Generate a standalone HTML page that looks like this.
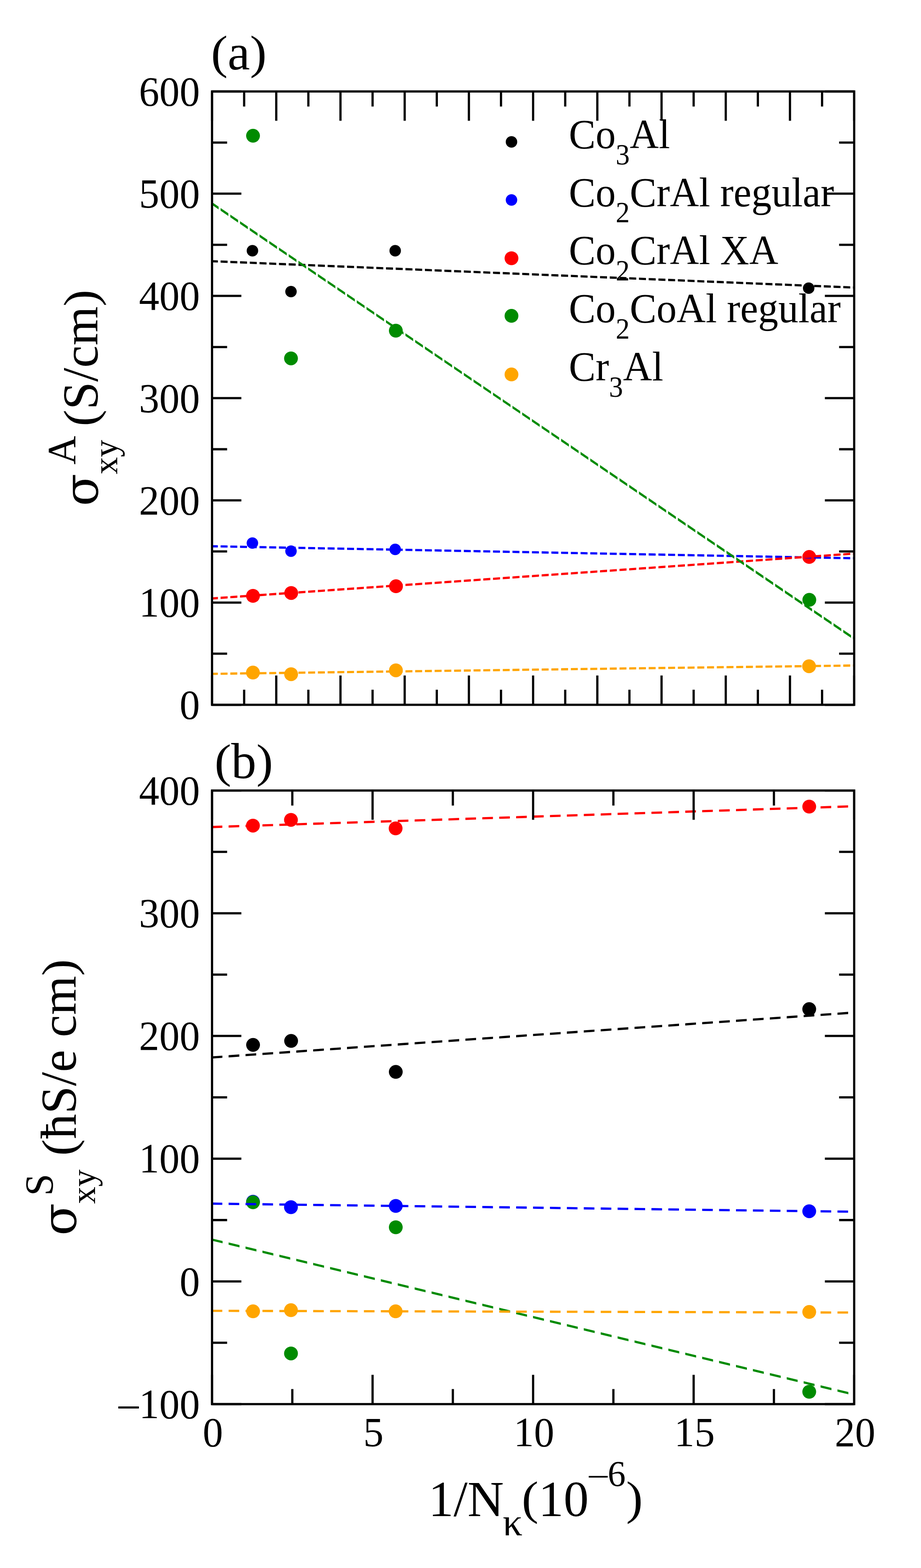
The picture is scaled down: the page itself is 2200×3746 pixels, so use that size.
<!DOCTYPE html>
<html><head><meta charset="utf-8"><title>plot</title>
<style>html,body{margin:0;padding:0;background:#fff;overflow:hidden}svg{display:block}</style>
</head><body>
<svg width="2200" height="3746" viewBox="0 0 2200 3746">
<rect width="2200" height="3746" fill="#fff"/>
<circle cx="603.00" cy="599.00" r="13.7" fill="#000000"/>
<circle cx="695.10" cy="696.60" r="13.7" fill="#000000"/>
<circle cx="944.00" cy="599.00" r="13.7" fill="#000000"/>
<circle cx="1931.70" cy="688.40" r="13.7" fill="#000000"/>
<circle cx="602.90" cy="1297.40" r="13.7" fill="#0000ff"/>
<circle cx="695.10" cy="1316.70" r="13.7" fill="#0000ff"/>
<circle cx="944.00" cy="1312.50" r="13.7" fill="#0000ff"/>
<circle cx="1933.00" cy="1332.00" r="13.7" fill="#0000ff"/>
<circle cx="604.30" cy="1423.50" r="16.5" fill="#ff0000"/>
<circle cx="695.60" cy="1416.70" r="16.5" fill="#ff0000"/>
<circle cx="945.90" cy="1400.60" r="16.5" fill="#ff0000"/>
<circle cx="1933.00" cy="1330.60" r="16.5" fill="#ff0000"/>
<circle cx="604.40" cy="324.30" r="16.5" fill="#008b00"/>
<circle cx="695.10" cy="856.20" r="16.5" fill="#008b00"/>
<circle cx="945.50" cy="790.00" r="16.5" fill="#008b00"/>
<circle cx="1933.20" cy="1433.10" r="16.5" fill="#008b00"/>
<circle cx="604.20" cy="1606.80" r="16.5" fill="#ffa500"/>
<circle cx="695.40" cy="1610.70" r="16.5" fill="#ffa500"/>
<circle cx="945.70" cy="1601.40" r="16.5" fill="#ffa500"/>
<circle cx="1932.60" cy="1591.70" r="16.5" fill="#ffa500"/>
<path d="M506.50 621.35L520.42 621.92L520.42 627.22L506.50 626.65ZM526.94 622.19L543.66 622.87L543.66 628.18L526.94 627.49ZM550.18 623.14L566.90 623.83L566.90 629.13L550.18 628.45ZM573.42 624.10L590.14 624.78L590.14 630.09L573.42 629.40ZM596.66 625.05L613.38 625.74L613.38 631.04L596.66 630.36ZM619.90 626.01L636.62 626.69L636.62 632.00L619.90 631.31ZM643.14 626.96L659.86 627.65L659.86 632.95L643.14 632.26ZM666.38 627.91L683.10 628.60L683.10 633.91L666.38 633.22ZM689.62 628.87L706.34 629.56L706.34 634.86L689.62 634.17ZM712.86 629.82L729.58 630.51L729.58 635.81L712.86 635.13ZM736.10 630.78L752.82 631.46L752.82 636.77L736.10 636.08ZM759.34 631.73L776.06 632.42L776.06 637.72L759.34 637.04ZM782.58 632.69L799.30 633.37L799.30 638.68L782.58 637.99ZM805.82 633.64L822.54 634.33L822.54 639.63L805.82 638.95ZM829.06 634.60L845.78 635.28L845.78 640.59L829.06 639.90ZM852.30 635.55L869.02 636.24L869.02 641.54L852.30 640.85ZM875.54 636.50L892.26 637.19L892.26 642.50L875.54 641.81ZM898.78 637.46L915.50 638.15L915.50 643.45L898.78 642.76ZM922.02 638.41L938.74 639.10L938.74 644.40L922.02 643.72ZM945.26 639.37L961.98 640.05L961.98 645.36L945.26 644.67ZM968.50 640.32L985.22 641.01L985.22 646.31L968.50 645.63ZM991.74 641.28L1008.46 641.96L1008.46 647.27L991.74 646.58ZM1014.98 642.23L1031.70 642.92L1031.70 648.22L1014.98 647.54ZM1038.22 643.19L1054.94 643.87L1054.94 649.18L1038.22 648.49ZM1061.46 644.14L1078.18 644.83L1078.18 650.13L1061.46 649.45ZM1084.70 645.10L1101.42 645.78L1101.42 651.09L1084.70 650.40ZM1107.94 646.05L1124.66 646.74L1124.66 652.04L1107.94 651.35ZM1131.18 647.00L1147.90 647.69L1147.90 653.00L1131.18 652.31ZM1154.42 647.96L1171.14 648.65L1171.14 653.95L1154.42 653.26ZM1177.66 648.91L1194.38 649.60L1194.38 654.90L1177.66 654.22ZM1200.90 649.87L1217.62 650.55L1217.62 655.86L1200.90 655.17ZM1224.14 650.82L1240.86 651.51L1240.86 656.81L1224.14 656.13ZM1247.38 651.78L1264.10 652.46L1264.10 657.77L1247.38 657.08ZM1270.62 652.73L1287.34 653.42L1287.34 658.72L1270.62 658.04ZM1293.86 653.69L1310.58 654.37L1310.58 659.68L1293.86 658.99ZM1317.10 654.64L1333.82 655.33L1333.82 660.63L1317.10 659.95ZM1340.34 655.60L1357.06 656.28L1357.06 661.59L1340.34 660.90ZM1363.58 656.55L1380.30 657.24L1380.30 662.54L1363.58 661.85ZM1386.82 657.50L1403.54 658.19L1403.54 663.50L1386.82 662.81ZM1410.06 658.46L1426.78 659.15L1426.78 664.45L1410.06 663.76ZM1433.30 659.41L1450.02 660.10L1450.02 665.40L1433.30 664.72ZM1456.54 660.37L1473.26 661.05L1473.26 666.36L1456.54 665.67ZM1479.78 661.32L1496.50 662.01L1496.50 667.31L1479.78 666.63ZM1503.02 662.28L1519.74 662.96L1519.74 668.27L1503.02 667.58ZM1526.26 663.23L1542.98 663.92L1542.98 669.22L1526.26 668.54ZM1549.50 664.19L1566.22 664.87L1566.22 670.18L1549.50 669.49ZM1572.74 665.14L1589.46 665.83L1589.46 671.13L1572.74 670.44ZM1595.98 666.09L1612.70 666.78L1612.70 672.09L1595.98 671.40ZM1619.22 667.05L1635.94 667.74L1635.94 673.04L1619.22 672.35ZM1642.46 668.00L1659.18 668.69L1659.18 673.99L1642.46 673.31ZM1665.70 668.96L1682.42 669.64L1682.42 674.95L1665.70 674.26ZM1688.94 669.91L1705.66 670.60L1705.66 675.90L1688.94 675.22ZM1712.18 670.87L1728.90 671.55L1728.90 676.86L1712.18 676.17ZM1735.42 671.82L1752.14 672.51L1752.14 677.81L1735.42 677.13ZM1758.66 672.78L1775.38 673.46L1775.38 678.77L1758.66 678.08ZM1781.90 673.73L1798.62 674.42L1798.62 679.72L1781.90 679.04ZM1805.14 674.69L1821.86 675.37L1821.86 680.68L1805.14 679.99ZM1828.38 675.64L1845.10 676.33L1845.10 681.63L1828.38 680.94ZM1851.62 676.59L1868.34 677.28L1868.34 682.59L1851.62 681.90ZM1874.86 677.55L1891.58 678.24L1891.58 683.54L1874.86 682.85ZM1898.10 678.50L1914.82 679.19L1914.82 684.49L1898.10 683.81ZM1921.34 679.46L1938.06 680.14L1938.06 685.45L1921.34 684.76ZM1944.58 680.41L1961.30 681.10L1961.30 686.40L1944.58 685.72ZM1967.82 681.37L1984.54 682.05L1984.54 687.36L1967.82 686.67ZM1991.06 682.32L2007.78 683.01L2007.78 688.31L1991.06 687.63ZM2014.30 683.28L2031.02 683.96L2031.02 689.27L2014.30 688.58ZM2037.54 684.23L2040.40 684.35L2040.40 689.65L2037.54 689.53Z" fill="#000000"/>
<path d="M506.50 1302.35L520.35 1302.61L520.35 1307.91L506.50 1307.65ZM526.94 1302.73L543.59 1303.04L543.59 1308.34L526.94 1308.03ZM550.18 1303.17L566.83 1303.48L566.83 1308.78L550.18 1308.47ZM573.42 1303.60L590.07 1303.91L590.07 1309.21L573.42 1308.90ZM596.66 1304.04L613.31 1304.35L613.31 1309.65L596.66 1309.34ZM619.90 1304.47L636.55 1304.78L636.55 1310.08L619.90 1309.77ZM643.14 1304.91L659.79 1305.22L659.79 1310.52L643.14 1310.21ZM666.38 1305.34L683.03 1305.65L683.03 1310.95L666.38 1310.64ZM689.62 1305.78L706.27 1306.09L706.27 1311.39L689.62 1311.08ZM712.86 1306.21L729.51 1306.52L729.51 1311.82L712.86 1311.51ZM736.10 1306.65L752.75 1306.96L752.75 1312.26L736.10 1311.95ZM759.34 1307.08L775.99 1307.39L775.99 1312.69L759.34 1312.38ZM782.58 1307.52L799.23 1307.83L799.23 1313.13L782.58 1312.82ZM805.82 1307.95L822.47 1308.26L822.47 1313.56L805.82 1313.25ZM829.06 1308.38L845.71 1308.70L845.71 1314.00L829.06 1313.69ZM852.30 1308.82L868.95 1309.13L868.95 1314.43L852.30 1314.12ZM875.54 1309.25L892.19 1309.57L892.19 1314.87L875.54 1314.56ZM898.78 1309.69L915.43 1310.00L915.43 1315.30L898.78 1314.99ZM922.02 1310.12L938.67 1310.44L938.67 1315.74L922.02 1315.43ZM945.26 1310.56L961.91 1310.87L961.91 1316.17L945.26 1315.86ZM968.50 1310.99L985.15 1311.31L985.15 1316.61L968.50 1316.29ZM991.74 1311.43L1008.39 1311.74L1008.39 1317.04L991.74 1316.73ZM1014.98 1311.86L1031.63 1312.18L1031.63 1317.48L1014.98 1317.16ZM1038.22 1312.30L1054.87 1312.61L1054.87 1317.91L1038.22 1317.60ZM1061.46 1312.73L1078.11 1313.04L1078.11 1318.35L1061.46 1318.03ZM1084.70 1313.17L1101.35 1313.48L1101.35 1318.78L1084.70 1318.47ZM1107.94 1313.60L1124.59 1313.91L1124.59 1319.22L1107.94 1318.90ZM1131.18 1314.04L1147.83 1314.35L1147.83 1319.65L1131.18 1319.34ZM1154.42 1314.47L1171.07 1314.78L1171.07 1320.08L1154.42 1319.77ZM1177.66 1314.91L1194.31 1315.22L1194.31 1320.52L1177.66 1320.21ZM1200.90 1315.34L1217.55 1315.65L1217.55 1320.95L1200.90 1320.64ZM1224.14 1315.78L1240.79 1316.09L1240.79 1321.39L1224.14 1321.08ZM1247.38 1316.21L1264.03 1316.52L1264.03 1321.82L1247.38 1321.51ZM1270.62 1316.65L1287.27 1316.96L1287.27 1322.26L1270.62 1321.95ZM1293.86 1317.08L1310.51 1317.39L1310.51 1322.69L1293.86 1322.38ZM1317.10 1317.52L1333.75 1317.83L1333.75 1323.13L1317.10 1322.82ZM1340.34 1317.95L1356.99 1318.26L1356.99 1323.56L1340.34 1323.25ZM1363.58 1318.39L1380.23 1318.70L1380.23 1324.00L1363.58 1323.69ZM1386.82 1318.82L1403.47 1319.13L1403.47 1324.43L1386.82 1324.12ZM1410.06 1319.26L1426.71 1319.57L1426.71 1324.87L1410.06 1324.56ZM1433.30 1319.69L1449.95 1320.00L1449.95 1325.30L1433.30 1324.99ZM1456.54 1320.13L1473.19 1320.44L1473.19 1325.74L1456.54 1325.43ZM1479.78 1320.56L1496.43 1320.87L1496.43 1326.17L1479.78 1325.86ZM1503.02 1320.99L1519.67 1321.31L1519.67 1326.61L1503.02 1326.30ZM1526.26 1321.43L1542.91 1321.74L1542.91 1327.04L1526.26 1326.73ZM1549.50 1321.86L1566.15 1322.18L1566.15 1327.48L1549.50 1327.17ZM1572.74 1322.30L1589.39 1322.61L1589.39 1327.91L1572.74 1327.60ZM1595.98 1322.73L1612.63 1323.05L1612.63 1328.35L1595.98 1328.04ZM1619.22 1323.17L1635.87 1323.48L1635.87 1328.78L1619.22 1328.47ZM1642.46 1323.60L1659.11 1323.92L1659.11 1329.22L1642.46 1328.90ZM1665.70 1324.04L1682.35 1324.35L1682.35 1329.65L1665.70 1329.34ZM1688.94 1324.47L1705.59 1324.79L1705.59 1330.09L1688.94 1329.77ZM1712.18 1324.91L1728.83 1325.22L1728.83 1330.52L1712.18 1330.21ZM1735.42 1325.34L1752.07 1325.65L1752.07 1330.96L1735.42 1330.64ZM1758.66 1325.78L1775.31 1326.09L1775.31 1331.39L1758.66 1331.08ZM1781.90 1326.21L1798.55 1326.52L1798.55 1331.83L1781.90 1331.51ZM1805.14 1326.65L1821.79 1326.96L1821.79 1332.26L1805.14 1331.95ZM1828.38 1327.08L1845.03 1327.39L1845.03 1332.70L1828.38 1332.38ZM1851.62 1327.52L1868.27 1327.83L1868.27 1333.13L1851.62 1332.82ZM1874.86 1327.95L1891.51 1328.26L1891.51 1333.56L1874.86 1333.25ZM1898.10 1328.39L1914.75 1328.70L1914.75 1334.00L1898.10 1333.69ZM1921.34 1328.82L1937.99 1329.13L1937.99 1334.43L1921.34 1334.12ZM1944.58 1329.26L1961.23 1329.57L1961.23 1334.87L1944.58 1334.56ZM1967.82 1329.69L1984.47 1330.00L1984.47 1335.30L1967.82 1334.99ZM1991.06 1330.13L2007.71 1330.44L2007.71 1335.74L1991.06 1335.43ZM2014.30 1330.56L2030.95 1330.87L2030.95 1336.17L2014.30 1335.86ZM2037.54 1331.00L2040.40 1331.05L2040.40 1336.35L2037.54 1336.30Z" fill="#0000ff"/>
<path d="M506.50 1427.04L520.50 1426.07L520.50 1431.38L506.50 1432.36ZM526.94 1425.62L543.74 1424.44L543.74 1429.75L526.94 1430.93ZM550.18 1423.99L566.98 1422.82L566.98 1428.13L550.18 1429.30ZM573.42 1422.37L590.22 1421.19L590.22 1426.51L573.42 1427.68ZM596.66 1420.74L613.46 1419.57L613.46 1424.88L596.66 1426.06ZM619.90 1419.12L636.70 1417.94L636.70 1423.26L619.90 1424.43ZM643.14 1417.49L659.94 1416.32L659.94 1421.63L643.14 1422.81ZM666.38 1415.87L683.18 1414.70L683.18 1420.01L666.38 1421.18ZM689.62 1414.25L706.42 1413.07L706.42 1418.38L689.62 1419.56ZM712.86 1412.62L729.66 1411.45L729.66 1416.76L712.86 1417.93ZM736.10 1411.00L752.90 1409.82L752.90 1415.14L736.10 1416.31ZM759.34 1409.37L776.14 1408.20L776.14 1413.51L759.34 1414.69ZM782.58 1407.75L799.38 1406.58L799.38 1411.89L782.58 1413.06ZM805.82 1406.12L822.62 1404.95L822.62 1410.26L805.82 1411.44ZM829.06 1404.50L845.86 1403.33L845.86 1408.64L829.06 1409.81ZM852.30 1402.88L869.10 1401.70L869.10 1407.02L852.30 1408.19ZM875.54 1401.25L892.34 1400.08L892.34 1405.39L875.54 1406.57ZM898.78 1399.63L915.58 1398.45L915.58 1403.77L898.78 1404.94ZM922.02 1398.00L938.82 1396.83L938.82 1402.14L922.02 1403.32ZM945.26 1396.38L962.06 1395.21L962.06 1400.52L945.26 1401.69ZM968.50 1394.76L985.30 1393.58L985.30 1398.89L968.50 1400.07ZM991.74 1393.13L1008.54 1391.96L1008.54 1397.27L991.74 1398.44ZM1014.98 1391.51L1031.78 1390.33L1031.78 1395.65L1014.98 1396.82ZM1038.22 1389.88L1055.02 1388.71L1055.02 1394.02L1038.22 1395.20ZM1061.46 1388.26L1078.26 1387.09L1078.26 1392.40L1061.46 1393.57ZM1084.70 1386.63L1101.50 1385.46L1101.50 1390.77L1084.70 1391.95ZM1107.94 1385.01L1124.74 1383.84L1124.74 1389.15L1107.94 1390.32ZM1131.18 1383.39L1147.98 1382.21L1147.98 1387.53L1131.18 1388.70ZM1154.42 1381.76L1171.22 1380.59L1171.22 1385.90L1154.42 1387.08ZM1177.66 1380.14L1194.46 1378.96L1194.46 1384.28L1177.66 1385.45ZM1200.90 1378.51L1217.70 1377.34L1217.70 1382.65L1200.90 1383.83ZM1224.14 1376.89L1240.94 1375.72L1240.94 1381.03L1224.14 1382.20ZM1247.38 1375.27L1264.18 1374.09L1264.18 1379.40L1247.38 1380.58ZM1270.62 1373.64L1287.42 1372.47L1287.42 1377.78L1270.62 1378.95ZM1293.86 1372.02L1310.66 1370.84L1310.66 1376.16L1293.86 1377.33ZM1317.10 1370.39L1333.90 1369.22L1333.90 1374.53L1317.10 1375.71ZM1340.34 1368.77L1357.14 1367.59L1357.14 1372.91L1340.34 1374.08ZM1363.58 1367.14L1380.38 1365.97L1380.38 1371.28L1363.58 1372.46ZM1386.82 1365.52L1403.62 1364.35L1403.62 1369.66L1386.82 1370.83ZM1410.06 1363.90L1426.86 1362.72L1426.86 1368.04L1410.06 1369.21ZM1433.30 1362.27L1450.10 1361.10L1450.10 1366.41L1433.30 1367.58ZM1456.54 1360.65L1473.34 1359.47L1473.34 1364.79L1456.54 1365.96ZM1479.78 1359.02L1496.58 1357.85L1496.58 1363.16L1479.78 1364.34ZM1503.02 1357.40L1519.82 1356.23L1519.82 1361.54L1503.02 1362.71ZM1526.26 1355.78L1543.06 1354.60L1543.06 1359.91L1526.26 1361.09ZM1549.50 1354.15L1566.30 1352.98L1566.30 1358.29L1549.50 1359.46ZM1572.74 1352.53L1589.54 1351.35L1589.54 1356.67L1572.74 1357.84ZM1595.98 1350.90L1612.78 1349.73L1612.78 1355.04L1595.98 1356.22ZM1619.22 1349.28L1636.02 1348.10L1636.02 1353.42L1619.22 1354.59ZM1642.46 1347.65L1659.26 1346.48L1659.26 1351.79L1642.46 1352.97ZM1665.70 1346.03L1682.50 1344.86L1682.50 1350.17L1665.70 1351.34ZM1688.94 1344.41L1705.74 1343.23L1705.74 1348.55L1688.94 1349.72ZM1712.18 1342.78L1728.98 1341.61L1728.98 1346.92L1712.18 1348.09ZM1735.42 1341.16L1752.22 1339.98L1752.22 1345.30L1735.42 1346.47ZM1758.66 1339.53L1775.46 1338.36L1775.46 1343.67L1758.66 1344.85ZM1781.90 1337.91L1798.70 1336.74L1798.70 1342.05L1781.90 1343.22ZM1805.14 1336.29L1821.94 1335.11L1821.94 1340.42L1805.14 1341.60ZM1828.38 1334.66L1845.18 1333.49L1845.18 1338.80L1828.38 1339.97ZM1851.62 1333.04L1868.42 1331.86L1868.42 1337.18L1851.62 1338.35ZM1874.86 1331.41L1891.66 1330.24L1891.66 1335.55L1874.86 1336.73ZM1898.10 1329.79L1914.90 1328.61L1914.90 1333.93L1898.10 1335.10ZM1921.34 1328.16L1938.14 1326.99L1938.14 1332.30L1921.34 1333.48ZM1944.58 1326.54L1961.38 1325.37L1961.38 1330.68L1944.58 1331.85ZM1967.82 1324.92L1984.62 1323.74L1984.62 1329.06L1967.82 1330.23ZM1991.06 1323.29L2007.86 1322.12L2007.86 1327.43L1991.06 1328.60ZM2014.30 1321.67L2031.10 1320.49L2031.10 1325.81L2014.30 1326.98ZM2037.54 1320.04L2040.40 1319.84L2040.40 1325.16L2037.54 1325.36Z" fill="#ff0000"/>
<path d="M506.50 483.10L522.20 493.74L522.20 500.14L506.50 489.50ZM526.94 496.95L545.44 509.48L545.44 515.89L526.94 503.35ZM550.18 512.70L568.68 525.23L568.68 531.63L550.18 519.10ZM573.42 528.45L591.92 540.98L591.92 547.38L573.42 534.85ZM596.66 544.19L615.16 556.73L615.16 563.13L596.66 550.60ZM619.90 559.94L638.40 572.48L638.40 578.88L619.90 566.34ZM643.14 575.69L661.64 588.22L661.64 594.63L643.14 582.09ZM666.38 591.44L684.88 603.97L684.88 610.37L666.38 597.84ZM689.62 607.18L708.12 619.72L708.12 626.12L689.62 613.59ZM712.86 622.93L731.36 635.47L731.36 641.87L712.86 629.33ZM736.10 638.68L754.60 651.21L754.60 657.62L736.10 645.08ZM759.34 654.43L777.84 666.96L777.84 673.36L759.34 660.83ZM782.58 670.18L801.08 682.71L801.08 689.11L782.58 676.58ZM805.82 685.92L824.32 698.46L824.32 704.86L805.82 692.33ZM829.06 701.67L847.56 714.21L847.56 720.61L829.06 708.07ZM852.30 717.42L870.80 729.95L870.80 736.36L852.30 723.82ZM875.54 733.17L894.04 745.70L894.04 752.10L875.54 739.57ZM898.78 748.92L917.28 761.45L917.28 767.85L898.78 755.32ZM922.02 764.66L940.52 777.20L940.52 783.60L922.02 771.07ZM945.26 780.41L963.76 792.95L963.76 799.35L945.26 786.81ZM968.50 796.16L987.00 808.69L987.00 815.10L968.50 802.56ZM991.74 811.91L1010.24 824.44L1010.24 830.84L991.74 818.31ZM1014.98 827.65L1033.48 840.19L1033.48 846.59L1014.98 834.06ZM1038.22 843.40L1056.72 855.94L1056.72 862.34L1038.22 849.80ZM1061.46 859.15L1079.96 871.68L1079.96 878.09L1061.46 865.55ZM1084.70 874.90L1103.20 887.43L1103.20 893.83L1084.70 881.30ZM1107.94 890.65L1126.44 903.18L1126.44 909.58L1107.94 897.05ZM1131.18 906.39L1149.68 918.93L1149.68 925.33L1131.18 912.80ZM1154.42 922.14L1172.92 934.68L1172.92 941.08L1154.42 928.54ZM1177.66 937.89L1196.16 950.42L1196.16 956.83L1177.66 944.29ZM1200.90 953.64L1219.40 966.17L1219.40 972.57L1200.90 960.04ZM1224.14 969.39L1242.64 981.92L1242.64 988.32L1224.14 975.79ZM1247.38 985.13L1265.88 997.67L1265.88 1004.07L1247.38 991.54ZM1270.62 1000.88L1289.12 1013.42L1289.12 1019.82L1270.62 1007.28ZM1293.86 1016.63L1312.36 1029.16L1312.36 1035.57L1293.86 1023.03ZM1317.10 1032.38L1335.60 1044.91L1335.60 1051.31L1317.10 1038.78ZM1340.34 1048.12L1358.84 1060.66L1358.84 1067.06L1340.34 1054.53ZM1363.58 1063.87L1382.08 1076.41L1382.08 1082.81L1363.58 1070.27ZM1386.82 1079.62L1405.32 1092.15L1405.32 1098.56L1386.82 1086.02ZM1410.06 1095.37L1428.56 1107.90L1428.56 1114.30L1410.06 1101.77ZM1433.30 1111.12L1451.80 1123.65L1451.80 1130.05L1433.30 1117.52ZM1456.54 1126.86L1475.04 1139.40L1475.04 1145.80L1456.54 1133.27ZM1479.78 1142.61L1498.28 1155.15L1498.28 1161.55L1479.78 1149.01ZM1503.02 1158.36L1521.52 1170.89L1521.52 1177.30L1503.02 1164.76ZM1526.26 1174.11L1544.76 1186.64L1544.76 1193.04L1526.26 1180.51ZM1549.50 1189.86L1568.00 1202.39L1568.00 1208.79L1549.50 1196.26ZM1572.74 1205.60L1591.24 1218.14L1591.24 1224.54L1572.74 1212.01ZM1595.98 1221.35L1614.48 1233.89L1614.48 1240.29L1595.98 1227.75ZM1619.22 1237.10L1637.72 1249.63L1637.72 1256.04L1619.22 1243.50ZM1642.46 1252.85L1660.96 1265.38L1660.96 1271.78L1642.46 1259.25ZM1665.70 1268.60L1684.20 1281.13L1684.20 1287.53L1665.70 1275.00ZM1688.94 1284.34L1707.44 1296.88L1707.44 1303.28L1688.94 1290.75ZM1712.18 1300.09L1730.68 1312.62L1730.68 1319.03L1712.18 1306.49ZM1735.42 1315.84L1753.92 1328.37L1753.92 1334.77L1735.42 1322.24ZM1758.66 1331.59L1777.16 1344.12L1777.16 1350.52L1758.66 1337.99ZM1781.90 1347.33L1800.40 1359.87L1800.40 1366.27L1781.90 1353.74ZM1805.14 1363.08L1823.64 1375.62L1823.64 1382.02L1805.14 1369.48ZM1828.38 1378.83L1846.88 1391.36L1846.88 1397.77L1828.38 1385.23ZM1851.62 1394.58L1870.12 1407.11L1870.12 1413.51L1851.62 1400.98ZM1874.86 1410.33L1893.36 1422.86L1893.36 1429.26L1874.86 1416.73ZM1898.10 1426.07L1916.60 1438.61L1916.60 1445.01L1898.10 1432.48ZM1921.34 1441.82L1939.84 1454.36L1939.84 1460.76L1921.34 1448.22ZM1944.58 1457.57L1963.08 1470.10L1963.08 1476.51L1944.58 1463.97ZM1967.82 1473.32L1986.32 1485.85L1986.32 1492.25L1967.82 1479.72ZM1991.06 1489.07L2009.56 1501.60L2009.56 1508.00L1991.06 1495.47ZM2014.30 1504.81L2032.80 1517.35L2032.80 1523.75L2014.30 1511.22ZM2037.54 1520.56L2040.40 1522.50L2040.40 1528.90L2037.54 1526.96Z" fill="#008b00"/>
<path d="M506.50 1607.15L520.34 1606.97L520.34 1612.27L506.50 1612.45ZM526.94 1606.88L543.58 1606.67L543.58 1611.97L526.94 1612.19ZM550.18 1606.58L566.82 1606.37L566.82 1611.67L550.18 1611.88ZM573.42 1606.28L590.06 1606.07L590.06 1611.37L573.42 1611.58ZM596.66 1605.98L613.30 1605.76L613.30 1611.06L596.66 1611.28ZM619.90 1605.68L636.54 1605.46L636.54 1610.76L619.90 1610.98ZM643.14 1605.38L659.78 1605.16L659.78 1610.46L643.14 1610.68ZM666.38 1605.08L683.02 1604.86L683.02 1610.16L666.38 1610.38ZM689.62 1604.77L706.26 1604.56L706.26 1609.86L689.62 1610.07ZM712.86 1604.47L729.50 1604.26L729.50 1609.56L712.86 1609.77ZM736.10 1604.17L752.74 1603.96L752.74 1609.26L736.10 1609.47ZM759.34 1603.87L775.98 1603.65L775.98 1608.95L759.34 1609.17ZM782.58 1603.57L799.22 1603.35L799.22 1608.65L782.58 1608.87ZM805.82 1603.27L822.46 1603.05L822.46 1608.35L805.82 1608.57ZM829.06 1602.97L845.70 1602.75L845.70 1608.05L829.06 1608.27ZM852.30 1602.66L868.94 1602.45L868.94 1607.75L852.30 1607.96ZM875.54 1602.36L892.18 1602.15L892.18 1607.45L875.54 1607.66ZM898.78 1602.06L915.42 1601.84L915.42 1607.15L898.78 1607.36ZM922.02 1601.76L938.66 1601.54L938.66 1606.84L922.02 1607.06ZM945.26 1601.46L961.90 1601.24L961.90 1606.54L945.26 1606.76ZM968.50 1601.16L985.14 1600.94L985.14 1606.24L968.50 1606.46ZM991.74 1600.85L1008.38 1600.64L1008.38 1605.94L991.74 1606.15ZM1014.98 1600.55L1031.62 1600.34L1031.62 1605.64L1014.98 1605.85ZM1038.22 1600.25L1054.86 1600.04L1054.86 1605.34L1038.22 1605.55ZM1061.46 1599.95L1078.10 1599.73L1078.10 1605.03L1061.46 1605.25ZM1084.70 1599.65L1101.34 1599.43L1101.34 1604.73L1084.70 1604.95ZM1107.94 1599.35L1124.58 1599.13L1124.58 1604.43L1107.94 1604.65ZM1131.18 1599.05L1147.82 1598.83L1147.82 1604.13L1131.18 1604.35ZM1154.42 1598.74L1171.06 1598.53L1171.06 1603.83L1154.42 1604.04ZM1177.66 1598.44L1194.30 1598.23L1194.30 1603.53L1177.66 1603.74ZM1200.90 1598.14L1217.54 1597.93L1217.54 1603.23L1200.90 1603.44ZM1224.14 1597.84L1240.78 1597.62L1240.78 1602.92L1224.14 1603.14ZM1247.38 1597.54L1264.02 1597.32L1264.02 1602.62L1247.38 1602.84ZM1270.62 1597.24L1287.26 1597.02L1287.26 1602.32L1270.62 1602.54ZM1293.86 1596.93L1310.50 1596.72L1310.50 1602.02L1293.86 1602.24ZM1317.10 1596.63L1333.74 1596.42L1333.74 1601.72L1317.10 1601.93ZM1340.34 1596.33L1356.98 1596.12L1356.98 1601.42L1340.34 1601.63ZM1363.58 1596.03L1380.22 1595.81L1380.22 1601.12L1363.58 1601.33ZM1386.82 1595.73L1403.46 1595.51L1403.46 1600.81L1386.82 1601.03ZM1410.06 1595.43L1426.70 1595.21L1426.70 1600.51L1410.06 1600.73ZM1433.30 1595.13L1449.94 1594.91L1449.94 1600.21L1433.30 1600.43ZM1456.54 1594.82L1473.18 1594.61L1473.18 1599.91L1456.54 1600.12ZM1479.78 1594.52L1496.42 1594.31L1496.42 1599.61L1479.78 1599.82ZM1503.02 1594.22L1519.66 1594.01L1519.66 1599.31L1503.02 1599.52ZM1526.26 1593.92L1542.90 1593.70L1542.90 1599.00L1526.26 1599.22ZM1549.50 1593.62L1566.14 1593.40L1566.14 1598.70L1549.50 1598.92ZM1572.74 1593.32L1589.38 1593.10L1589.38 1598.40L1572.74 1598.62ZM1595.98 1593.02L1612.62 1592.80L1612.62 1598.10L1595.98 1598.32ZM1619.22 1592.71L1635.86 1592.50L1635.86 1597.80L1619.22 1598.01ZM1642.46 1592.41L1659.10 1592.20L1659.10 1597.50L1642.46 1597.71ZM1665.70 1592.11L1682.34 1591.90L1682.34 1597.20L1665.70 1597.41ZM1688.94 1591.81L1705.58 1591.59L1705.58 1596.89L1688.94 1597.11ZM1712.18 1591.51L1728.82 1591.29L1728.82 1596.59L1712.18 1596.81ZM1735.42 1591.21L1752.06 1590.99L1752.06 1596.29L1735.42 1596.51ZM1758.66 1590.90L1775.30 1590.69L1775.30 1595.99L1758.66 1596.21ZM1781.90 1590.60L1798.54 1590.39L1798.54 1595.69L1781.90 1595.90ZM1805.14 1590.30L1821.78 1590.09L1821.78 1595.39L1805.14 1595.60ZM1828.38 1590.00L1845.02 1589.78L1845.02 1595.09L1828.38 1595.30ZM1851.62 1589.70L1868.26 1589.48L1868.26 1594.78L1851.62 1595.00ZM1874.86 1589.40L1891.50 1589.18L1891.50 1594.48L1874.86 1594.70ZM1898.10 1589.10L1914.74 1588.88L1914.74 1594.18L1898.10 1594.40ZM1921.34 1588.79L1937.98 1588.58L1937.98 1593.88L1921.34 1594.09ZM1944.58 1588.49L1961.22 1588.28L1961.22 1593.58L1944.58 1593.79ZM1967.82 1588.19L1984.46 1587.98L1984.46 1593.28L1967.82 1593.49ZM1991.06 1587.89L2007.70 1587.67L2007.70 1592.97L1991.06 1593.19ZM2014.30 1587.59L2030.94 1587.37L2030.94 1592.67L2014.30 1592.89ZM2037.54 1587.29L2040.40 1587.25L2040.40 1592.55L2037.54 1592.59Z" fill="#ffa500"/>
<rect x="506.5" y="218.5" width="1533.90" height="1465.30" fill="none" stroke="#000" stroke-width="5.3" stroke-linejoin="miter"/>
<path d="M506.50 218.50V288.50M506.50 1683.80V1613.80M659.89 218.50V288.50M659.89 1683.80V1613.80M813.28 218.50V288.50M813.28 1683.80V1613.80M966.67 218.50V288.50M966.67 1683.80V1613.80M1120.06 218.50V288.50M1120.06 1683.80V1613.80M1273.45 218.50V288.50M1273.45 1683.80V1613.80M1426.84 218.50V288.50M1426.84 1683.80V1613.80M1580.23 218.50V288.50M1580.23 1683.80V1613.80M1733.62 218.50V288.50M1733.62 1683.80V1613.80M1887.01 218.50V288.50M1887.01 1683.80V1613.80M2040.40 218.50V288.50M2040.40 1683.80V1613.80M583.20 218.50V254.50M583.20 1683.80V1647.80M736.59 218.50V254.50M736.59 1683.80V1647.80M889.98 218.50V254.50M889.98 1683.80V1647.80M1043.37 218.50V254.50M1043.37 1683.80V1647.80M1196.76 218.50V254.50M1196.76 1683.80V1647.80M1350.14 218.50V254.50M1350.14 1683.80V1647.80M1503.54 218.50V254.50M1503.54 1683.80V1647.80M1656.92 218.50V254.50M1656.92 1683.80V1647.80M1810.32 218.50V254.50M1810.32 1683.80V1647.80M1963.71 218.50V254.50M1963.71 1683.80V1647.80" stroke="#000" stroke-width="5.3" fill="none"/>
<path d="M506.50 1683.80H576.50M2040.40 1683.80H1970.40M506.50 1439.58H576.50M2040.40 1439.58H1970.40M506.50 1195.37H576.50M2040.40 1195.37H1970.40M506.50 951.15H576.50M2040.40 951.15H1970.40M506.50 706.93H576.50M2040.40 706.93H1970.40M506.50 462.72H576.50M2040.40 462.72H1970.40M506.50 218.50H576.50M2040.40 218.50H1970.40M506.50 1561.69H542.50M2040.40 1561.69H2004.40M506.50 1317.47H542.50M2040.40 1317.47H2004.40M506.50 1073.26H542.50M2040.40 1073.26H2004.40M506.50 829.04H542.50M2040.40 829.04H2004.40M506.50 584.83H542.50M2040.40 584.83H2004.40M506.50 340.61H542.50M2040.40 340.61H2004.40" stroke="#000" stroke-width="5.3" fill="none"/>
<circle cx="1221.80" cy="339.00" r="13.7" fill="#000000"/>
<circle cx="1221.80" cy="477.70" r="13.7" fill="#0000ff"/>
<circle cx="1221.80" cy="617.00" r="16.5" fill="#ff0000"/>
<circle cx="1221.80" cy="754.60" r="16.5" fill="#008b00"/>
<circle cx="1221.80" cy="894.60" r="16.5" fill="#ffa500"/>
<circle cx="604.20" cy="1972.40" r="16.5" fill="#ff0000"/>
<circle cx="695.00" cy="1958.70" r="16.5" fill="#ff0000"/>
<circle cx="945.00" cy="1979.00" r="16.5" fill="#ff0000"/>
<circle cx="1933.00" cy="1927.00" r="16.5" fill="#ff0000"/>
<circle cx="604.50" cy="2496.30" r="16.5" fill="#000000"/>
<circle cx="695.40" cy="2486.80" r="16.5" fill="#000000"/>
<circle cx="945.40" cy="2560.80" r="16.5" fill="#000000"/>
<circle cx="1933.00" cy="2410.80" r="16.5" fill="#000000"/>
<circle cx="604.30" cy="2871.00" r="16.5" fill="#0000ff"/>
<circle cx="695.00" cy="2884.00" r="16.5" fill="#0000ff"/>
<circle cx="945.40" cy="2881.00" r="16.5" fill="#0000ff"/>
<circle cx="1933.00" cy="2893.70" r="16.5" fill="#0000ff"/>
<circle cx="604.30" cy="2872.30" r="16.5" fill="#008b00"/>
<circle cx="695.10" cy="3233.40" r="16.5" fill="#008b00"/>
<circle cx="945.40" cy="2932.00" r="16.5" fill="#008b00"/>
<circle cx="1933.00" cy="3325.00" r="16.5" fill="#008b00"/>
<circle cx="604.50" cy="3132.80" r="16.5" fill="#ffa500"/>
<circle cx="695.00" cy="3130.10" r="16.5" fill="#ffa500"/>
<circle cx="945.00" cy="3132.80" r="16.5" fill="#ffa500"/>
<circle cx="1933.00" cy="3134.30" r="16.5" fill="#ffa500"/>
<path d="M506.50 1973.15L531.09 1972.35L531.09 1977.66L506.50 1978.45ZM546.10 1971.87L571.49 1971.05L571.49 1976.35L546.10 1977.17ZM586.50 1970.56L611.89 1969.74L611.89 1975.04L586.50 1975.86ZM626.90 1969.26L652.29 1968.43L652.29 1973.74L626.90 1974.56ZM667.30 1967.95L692.69 1967.13L692.69 1972.43L667.30 1973.25ZM707.70 1966.64L733.09 1965.82L733.09 1971.12L707.70 1971.95ZM748.10 1965.34L773.49 1964.52L773.49 1969.82L748.10 1970.64ZM788.50 1964.03L813.89 1963.21L813.89 1968.51L788.50 1969.33ZM828.90 1962.72L854.29 1961.90L854.29 1967.21L828.90 1968.03ZM869.30 1961.42L894.69 1960.60L894.69 1965.90L869.30 1966.72ZM909.70 1960.11L935.09 1959.29L935.09 1964.59L909.70 1965.41ZM950.10 1958.80L975.49 1957.98L975.49 1963.29L950.10 1964.11ZM990.50 1957.50L1015.89 1956.68L1015.89 1961.98L990.50 1962.80ZM1030.90 1956.19L1056.29 1955.37L1056.29 1960.67L1030.90 1961.49ZM1071.30 1954.89L1096.69 1954.06L1096.69 1959.37L1071.30 1960.19ZM1111.70 1953.58L1137.09 1952.76L1137.09 1958.06L1111.70 1958.88ZM1152.10 1952.27L1177.49 1951.45L1177.49 1956.75L1152.10 1957.58ZM1192.50 1950.97L1217.89 1950.15L1217.89 1955.45L1192.50 1956.27ZM1232.90 1949.66L1258.29 1948.84L1258.29 1954.14L1232.90 1954.96ZM1273.30 1948.35L1298.69 1947.53L1298.69 1952.84L1273.30 1953.66ZM1313.70 1947.05L1339.09 1946.23L1339.09 1951.53L1313.70 1952.35ZM1354.10 1945.74L1379.49 1944.92L1379.49 1950.22L1354.10 1951.04ZM1394.50 1944.43L1419.89 1943.61L1419.89 1948.92L1394.50 1949.74ZM1434.90 1943.13L1460.29 1942.31L1460.29 1947.61L1434.90 1948.43ZM1475.30 1941.82L1500.69 1941.00L1500.69 1946.30L1475.30 1947.12ZM1515.70 1940.52L1541.09 1939.69L1541.09 1945.00L1515.70 1945.82ZM1556.10 1939.21L1581.49 1938.39L1581.49 1943.69L1556.10 1944.51ZM1596.50 1937.90L1621.89 1937.08L1621.89 1942.38L1596.50 1943.21ZM1636.90 1936.60L1662.29 1935.78L1662.29 1941.08L1636.90 1941.90ZM1677.30 1935.29L1702.69 1934.47L1702.69 1939.77L1677.30 1940.59ZM1717.70 1933.98L1743.09 1933.16L1743.09 1938.47L1717.70 1939.29ZM1758.10 1932.68L1783.49 1931.86L1783.49 1937.16L1758.10 1937.98ZM1798.50 1931.37L1823.89 1930.55L1823.89 1935.85L1798.50 1936.67ZM1838.90 1930.06L1864.29 1929.24L1864.29 1934.55L1838.90 1935.37ZM1879.30 1928.76L1904.69 1927.94L1904.69 1933.24L1879.30 1934.06ZM1919.70 1927.45L1945.09 1926.63L1945.09 1931.93L1919.70 1932.75ZM1960.10 1926.15L1985.49 1925.32L1985.49 1930.63L1960.10 1931.45ZM2000.50 1924.84L2025.89 1924.02L2025.89 1929.32L2000.50 1930.14Z" fill="#ff0000"/>
<path d="M506.50 2523.64L531.20 2521.92L531.20 2527.23L506.50 2528.96ZM546.10 2520.87L571.60 2519.09L571.60 2524.40L546.10 2526.19ZM586.50 2518.05L612.00 2516.26L612.00 2521.58L586.50 2523.36ZM626.90 2515.22L652.40 2513.44L652.40 2518.75L626.90 2520.53ZM667.30 2512.40L692.80 2510.61L692.80 2515.92L667.30 2517.71ZM707.70 2509.57L733.20 2507.79L733.20 2513.10L707.70 2514.88ZM748.10 2506.74L773.60 2504.96L773.60 2510.27L748.10 2512.06ZM788.50 2503.92L814.00 2502.13L814.00 2507.45L788.50 2509.23ZM828.90 2501.09L854.40 2499.31L854.40 2504.62L828.90 2506.40ZM869.30 2498.26L894.80 2496.48L894.80 2501.79L869.30 2503.58ZM909.70 2495.44L935.20 2493.66L935.20 2498.97L909.70 2500.75ZM950.10 2492.61L975.60 2490.83L975.60 2496.14L950.10 2497.93ZM990.50 2489.79L1016.00 2488.00L1016.00 2493.32L990.50 2495.10ZM1030.90 2486.96L1056.40 2485.18L1056.40 2490.49L1030.90 2492.27ZM1071.30 2484.13L1096.80 2482.35L1096.80 2487.66L1071.30 2489.45ZM1111.70 2481.31L1137.20 2479.52L1137.20 2484.84L1111.70 2486.62ZM1152.10 2478.48L1177.60 2476.70L1177.60 2482.01L1152.10 2483.80ZM1192.50 2475.66L1218.00 2473.87L1218.00 2479.19L1192.50 2480.97ZM1232.90 2472.83L1258.40 2471.05L1258.40 2476.36L1232.90 2478.14ZM1273.30 2470.00L1298.80 2468.22L1298.80 2473.53L1273.30 2475.32ZM1313.70 2467.18L1339.20 2465.39L1339.20 2470.71L1313.70 2472.49ZM1354.10 2464.35L1379.60 2462.57L1379.60 2467.88L1354.10 2469.66ZM1394.50 2461.53L1420.00 2459.74L1420.00 2465.06L1394.50 2466.84ZM1434.90 2458.70L1460.40 2456.92L1460.40 2462.23L1434.90 2464.01ZM1475.30 2455.87L1500.80 2454.09L1500.80 2459.40L1475.30 2461.19ZM1515.70 2453.05L1541.20 2451.26L1541.20 2456.58L1515.70 2458.36ZM1556.10 2450.22L1581.60 2448.44L1581.60 2453.75L1556.10 2455.53ZM1596.50 2447.40L1622.00 2445.61L1622.00 2450.92L1596.50 2452.71ZM1636.90 2444.57L1662.40 2442.79L1662.40 2448.10L1636.90 2449.88ZM1677.30 2441.74L1702.80 2439.96L1702.80 2445.27L1677.30 2447.06ZM1717.70 2438.92L1743.20 2437.13L1743.20 2442.45L1717.70 2444.23ZM1758.10 2436.09L1783.60 2434.31L1783.60 2439.62L1758.10 2441.40ZM1798.50 2433.27L1824.00 2431.48L1824.00 2436.79L1798.50 2438.58ZM1838.90 2430.44L1864.40 2428.66L1864.40 2433.97L1838.90 2435.75ZM1879.30 2427.61L1904.80 2425.83L1904.80 2431.14L1879.30 2432.93ZM1919.70 2424.79L1945.20 2423.00L1945.20 2428.32L1919.70 2430.10ZM1960.10 2421.96L1985.60 2420.18L1985.60 2425.49L1960.10 2427.27ZM2000.50 2419.13L2026.00 2417.35L2026.00 2422.66L2000.50 2424.45Z" fill="#000000"/>
<path d="M506.50 2872.85L531.04 2873.16L531.04 2878.46L506.50 2878.15ZM546.10 2873.35L571.44 2873.67L571.44 2878.97L546.10 2878.65ZM586.50 2873.86L611.84 2874.18L611.84 2879.48L586.50 2879.16ZM626.90 2874.37L652.24 2874.69L652.24 2879.99L626.90 2879.67ZM667.30 2874.88L692.64 2875.20L692.64 2880.50L667.30 2880.18ZM707.70 2875.39L733.04 2875.71L733.04 2881.02L707.70 2880.69ZM748.10 2875.91L773.44 2876.23L773.44 2881.53L748.10 2881.21ZM788.50 2876.42L813.84 2876.74L813.84 2882.04L788.50 2881.72ZM828.90 2876.93L854.24 2877.25L854.24 2882.55L828.90 2882.23ZM869.30 2877.44L894.64 2877.76L894.64 2883.06L869.30 2882.74ZM909.70 2877.95L935.04 2878.27L935.04 2883.57L909.70 2883.25ZM950.10 2878.46L975.44 2878.78L975.44 2884.08L950.10 2883.76ZM990.50 2878.97L1015.84 2879.29L1015.84 2884.59L990.50 2884.27ZM1030.90 2879.48L1056.24 2879.80L1056.24 2885.10L1030.90 2884.78ZM1071.30 2879.99L1096.64 2880.31L1096.64 2885.61L1071.30 2885.29ZM1111.70 2880.50L1137.04 2880.82L1137.04 2886.12L1111.70 2885.80ZM1152.10 2881.02L1177.44 2881.34L1177.44 2886.64L1152.10 2886.32ZM1192.50 2881.53L1217.84 2881.85L1217.84 2887.15L1192.50 2886.83ZM1232.90 2882.04L1258.24 2882.36L1258.24 2887.66L1232.90 2887.34ZM1273.30 2882.55L1298.64 2882.87L1298.64 2888.17L1273.30 2887.85ZM1313.70 2883.06L1339.04 2883.38L1339.04 2888.68L1313.70 2888.36ZM1354.10 2883.57L1379.44 2883.89L1379.44 2889.19L1354.10 2888.87ZM1394.50 2884.08L1419.84 2884.40L1419.84 2889.70L1394.50 2889.38ZM1434.90 2884.59L1460.24 2884.91L1460.24 2890.21L1434.90 2889.89ZM1475.30 2885.10L1500.64 2885.42L1500.64 2890.72L1475.30 2890.40ZM1515.70 2885.61L1541.04 2885.93L1541.04 2891.23L1515.70 2890.91ZM1556.10 2886.12L1581.44 2886.45L1581.44 2891.75L1556.10 2891.43ZM1596.50 2886.64L1621.84 2886.96L1621.84 2892.26L1596.50 2891.94ZM1636.90 2887.15L1662.24 2887.47L1662.24 2892.77L1636.90 2892.45ZM1677.30 2887.66L1702.64 2887.98L1702.64 2893.28L1677.30 2892.96ZM1717.70 2888.17L1743.04 2888.49L1743.04 2893.79L1717.70 2893.47ZM1758.10 2888.68L1783.44 2889.00L1783.44 2894.30L1758.10 2893.98ZM1798.50 2889.19L1823.84 2889.51L1823.84 2894.81L1798.50 2894.49ZM1838.90 2889.70L1864.24 2890.02L1864.24 2895.32L1838.90 2895.00ZM1879.30 2890.21L1904.64 2890.53L1904.64 2895.83L1879.30 2895.51ZM1919.70 2890.72L1945.04 2891.04L1945.04 2896.34L1919.70 2896.02ZM1960.10 2891.23L1985.44 2891.55L1985.44 2896.86L1960.10 2896.53ZM2000.50 2891.75L2025.84 2892.07L2025.84 2897.37L2000.50 2897.05Z" fill="#0000ff"/>
<path d="M506.50 2958.77L531.68 2964.85L531.68 2970.30L506.50 2964.23ZM546.10 2968.33L572.08 2974.60L572.08 2980.05L546.10 2973.78ZM586.50 2978.08L612.48 2984.34L612.48 2989.80L586.50 2983.53ZM626.90 2987.82L652.88 2994.09L652.88 2999.54L626.90 2993.28ZM667.30 2997.57L693.28 3003.84L693.28 3009.29L667.30 3003.02ZM707.70 3007.32L733.68 3013.59L733.68 3019.04L707.70 3012.77ZM748.10 3017.07L774.08 3023.33L774.08 3028.79L748.10 3022.52ZM788.50 3026.82L814.48 3033.08L814.48 3038.53L788.50 3032.27ZM828.90 3036.56L854.88 3042.83L854.88 3048.28L828.90 3042.01ZM869.30 3046.31L895.28 3052.58L895.28 3058.03L869.30 3051.76ZM909.70 3056.06L935.68 3062.33L935.68 3067.78L909.70 3061.51ZM950.10 3065.81L976.08 3072.07L976.08 3077.53L950.10 3071.26ZM990.50 3075.55L1016.48 3081.82L1016.48 3087.27L990.50 3081.01ZM1030.90 3085.30L1056.88 3091.57L1056.88 3097.02L1030.90 3090.75ZM1071.30 3095.05L1097.28 3101.32L1097.28 3106.77L1071.30 3100.50ZM1111.70 3104.80L1137.68 3111.06L1137.68 3116.52L1111.70 3110.25ZM1152.10 3114.54L1178.08 3120.81L1178.08 3126.26L1152.10 3120.00ZM1192.50 3124.29L1218.48 3130.56L1218.48 3136.01L1192.50 3129.74ZM1232.90 3134.04L1258.88 3140.31L1258.88 3145.76L1232.90 3139.49ZM1273.30 3143.79L1299.28 3150.06L1299.28 3155.51L1273.30 3149.24ZM1313.70 3153.54L1339.68 3159.80L1339.68 3165.25L1313.70 3158.99ZM1354.10 3163.28L1380.08 3169.55L1380.08 3175.00L1354.10 3168.74ZM1394.50 3173.03L1420.48 3179.30L1420.48 3184.75L1394.50 3178.48ZM1434.90 3182.78L1460.88 3189.05L1460.88 3194.50L1434.90 3188.23ZM1475.30 3192.53L1501.28 3198.79L1501.28 3204.25L1475.30 3197.98ZM1515.70 3202.27L1541.68 3208.54L1541.68 3213.99L1515.70 3207.73ZM1556.10 3212.02L1582.08 3218.29L1582.08 3223.74L1556.10 3217.47ZM1596.50 3221.77L1622.48 3228.04L1622.48 3233.49L1596.50 3227.22ZM1636.90 3231.52L1662.88 3237.78L1662.88 3243.24L1636.90 3236.97ZM1677.30 3241.27L1703.28 3247.53L1703.28 3252.98L1677.30 3246.72ZM1717.70 3251.01L1743.68 3257.28L1743.68 3262.73L1717.70 3256.46ZM1758.10 3260.76L1784.08 3267.03L1784.08 3272.48L1758.10 3266.21ZM1798.50 3270.51L1824.48 3276.78L1824.48 3282.23L1798.50 3275.96ZM1838.90 3280.26L1864.88 3286.52L1864.88 3291.98L1838.90 3285.71ZM1879.30 3290.00L1905.28 3296.27L1905.28 3301.72L1879.30 3295.46ZM1919.70 3299.75L1945.68 3306.02L1945.68 3311.47L1919.70 3305.20ZM1960.10 3309.50L1986.08 3315.77L1986.08 3321.22L1960.10 3314.95ZM2000.50 3319.25L2026.48 3325.51L2026.48 3330.97L2000.50 3324.70Z" fill="#008b00"/>
<path d="M506.50 3128.95L531.01 3129.02L531.01 3134.32L506.50 3134.25ZM546.10 3129.06L571.41 3129.12L571.41 3134.42L546.10 3134.36ZM586.50 3129.16L611.81 3129.23L611.81 3134.53L586.50 3134.46ZM626.90 3129.27L652.21 3129.34L652.21 3134.64L626.90 3134.57ZM667.30 3129.38L692.61 3129.45L692.61 3134.75L667.30 3134.68ZM707.70 3129.49L733.01 3129.56L733.01 3134.86L707.70 3134.79ZM748.10 3129.60L773.41 3129.66L773.41 3134.96L748.10 3134.90ZM788.50 3129.70L813.81 3129.77L813.81 3135.07L788.50 3135.00ZM828.90 3129.81L854.21 3129.88L854.21 3135.18L828.90 3135.11ZM869.30 3129.92L894.61 3129.99L894.61 3135.29L869.30 3135.22ZM909.70 3130.03L935.01 3130.10L935.01 3135.40L909.70 3135.33ZM950.10 3130.14L975.41 3130.20L975.41 3135.50L950.10 3135.44ZM990.50 3130.24L1015.81 3130.31L1015.81 3135.61L990.50 3135.54ZM1030.90 3130.35L1056.21 3130.42L1056.21 3135.72L1030.90 3135.65ZM1071.30 3130.46L1096.61 3130.53L1096.61 3135.83L1071.30 3135.76ZM1111.70 3130.57L1137.01 3130.64L1137.01 3135.94L1111.70 3135.87ZM1152.10 3130.68L1177.41 3130.74L1177.41 3136.04L1152.10 3135.98ZM1192.50 3130.78L1217.81 3130.85L1217.81 3136.15L1192.50 3136.08ZM1232.90 3130.89L1258.21 3130.96L1258.21 3136.26L1232.90 3136.19ZM1273.30 3131.00L1298.61 3131.07L1298.61 3136.37L1273.30 3136.30ZM1313.70 3131.11L1339.01 3131.18L1339.01 3136.48L1313.70 3136.41ZM1354.10 3131.22L1379.41 3131.28L1379.41 3136.58L1354.10 3136.52ZM1394.50 3131.32L1419.81 3131.39L1419.81 3136.69L1394.50 3136.62ZM1434.90 3131.43L1460.21 3131.50L1460.21 3136.80L1434.90 3136.73ZM1475.30 3131.54L1500.61 3131.61L1500.61 3136.91L1475.30 3136.84ZM1515.70 3131.65L1541.01 3131.72L1541.01 3137.02L1515.70 3136.95ZM1556.10 3131.76L1581.41 3131.82L1581.41 3137.12L1556.10 3137.06ZM1596.50 3131.86L1621.81 3131.93L1621.81 3137.23L1596.50 3137.16ZM1636.90 3131.97L1662.21 3132.04L1662.21 3137.34L1636.90 3137.27ZM1677.30 3132.08L1702.61 3132.15L1702.61 3137.45L1677.30 3137.38ZM1717.70 3132.19L1743.01 3132.26L1743.01 3137.56L1717.70 3137.49ZM1758.10 3132.30L1783.41 3132.36L1783.41 3137.66L1758.10 3137.60ZM1798.50 3132.40L1823.81 3132.47L1823.81 3137.77L1798.50 3137.70ZM1838.90 3132.51L1864.21 3132.58L1864.21 3137.88L1838.90 3137.81ZM1879.30 3132.62L1904.61 3132.69L1904.61 3137.99L1879.30 3137.92ZM1919.70 3132.73L1945.01 3132.80L1945.01 3138.10L1919.70 3138.03ZM1960.10 3132.84L1985.41 3132.90L1985.41 3138.20L1960.10 3138.14ZM2000.50 3132.94L2025.81 3133.01L2025.81 3138.31L2000.50 3138.24Z" fill="#ffa500"/>
<rect x="506.5" y="1888.6" width="1533.90" height="1465.90" fill="none" stroke="#000" stroke-width="5.3" stroke-linejoin="miter"/>
<path d="M506.50 1888.60V1958.60M506.50 3354.50V3284.50M889.98 1888.60V1958.60M889.98 3354.50V3284.50M1273.45 1888.60V1958.60M1273.45 3354.50V3284.50M1656.92 1888.60V1958.60M1656.92 3354.50V3284.50M2040.40 1888.60V1958.60M2040.40 3354.50V3284.50M698.24 1888.60V1924.60M698.24 3354.50V3318.50M1081.71 1888.60V1924.60M1081.71 3354.50V3318.50M1465.19 1888.60V1924.60M1465.19 3354.50V3318.50M1848.66 1888.60V1924.60M1848.66 3354.50V3318.50" stroke="#000" stroke-width="5.3" fill="none"/>
<path d="M506.50 3354.50H576.50M2040.40 3354.50H1970.40M506.50 3061.32H576.50M2040.40 3061.32H1970.40M506.50 2768.14H576.50M2040.40 2768.14H1970.40M506.50 2474.96H576.50M2040.40 2474.96H1970.40M506.50 2181.78H576.50M2040.40 2181.78H1970.40M506.50 1888.60H576.50M2040.40 1888.60H1970.40M506.50 3207.91H542.50M2040.40 3207.91H2004.40M506.50 2914.73H542.50M2040.40 2914.73H2004.40M506.50 2621.55H542.50M2040.40 2621.55H2004.40M506.50 2328.37H542.50M2040.40 2328.37H2004.40M506.50 2035.19H542.50M2040.40 2035.19H2004.40" stroke="#000" stroke-width="5.3" fill="none"/>
<g font-family="'Liberation Serif', 'Times New Roman', serif" fill="#000">
<text x="477.6" y="1717.4" font-size="100" text-anchor="end" transform="matrix(0.97 0 0 1 14.33 0)">0</text>
<text x="477.6" y="1473.2" font-size="100" text-anchor="end" transform="matrix(0.97 0 0 1 14.33 0)">100</text>
<text x="477.6" y="1229.0" font-size="100" text-anchor="end" transform="matrix(0.97 0 0 1 14.33 0)">200</text>
<text x="477.6" y="984.8" font-size="100" text-anchor="end" transform="matrix(0.97 0 0 1 14.33 0)">300</text>
<text x="477.6" y="740.5" font-size="100" text-anchor="end" transform="matrix(0.97 0 0 1 14.33 0)">400</text>
<text x="477.6" y="496.3" font-size="100" text-anchor="end" transform="matrix(0.97 0 0 1 14.33 0)">500</text>
<text x="477.6" y="252.1" font-size="100" text-anchor="end" transform="matrix(0.97 0 0 1 14.33 0)">600</text>
<text x="477.6" y="3094.7" font-size="100" text-anchor="end" transform="matrix(0.97 0 0 1 14.33 0)">0</text>
<text x="477.6" y="2801.5" font-size="100" text-anchor="end" transform="matrix(0.97 0 0 1 14.33 0)">100</text>
<text x="477.6" y="2508.4" font-size="100" text-anchor="end" transform="matrix(0.97 0 0 1 14.33 0)">200</text>
<text x="477.6" y="2215.2" font-size="100" text-anchor="end" transform="matrix(0.97 0 0 1 14.33 0)">300</text>
<text x="477.6" y="1922.0" font-size="100" text-anchor="end" transform="matrix(0.97 0 0 1 14.33 0)">400</text>
<text x="477.6" y="3387.9" font-size="100" text-anchor="end" transform="matrix(0.97 0 0 1 14.33 0)">100</text>
<text x="277.3" y="3396.4" font-size="100" textLength="59.75" lengthAdjust="spacingAndGlyphs">−</text>
<text x="508.5" y="3455.2" font-size="100" text-anchor="middle" transform="matrix(0.97 0 0 1 15.26 0)">0</text>
<text x="892.0" y="3455.2" font-size="100" text-anchor="middle" transform="matrix(0.97 0 0 1 26.76 0)">5</text>
<text x="1275.5" y="3455.2" font-size="100" text-anchor="middle" transform="matrix(0.97 0 0 1 38.26 0)">10</text>
<text x="1658.9" y="3455.2" font-size="100" text-anchor="middle" transform="matrix(0.97 0 0 1 49.77 0)">15</text>
<text x="2042.4" y="3455.2" font-size="100" text-anchor="middle" transform="matrix(0.97 0 0 1 61.27 0)">20</text>
<text x="503.90" y="166.00" font-size="120" transform="matrix(1 0 0 0.928 0 8.93)">(</text>
<text x="543.85" y="166.0" font-size="120">a</text>
<text x="597.12" y="166.00" font-size="120" transform="matrix(1 0 0 0.928 0 8.93)">)</text>
<text x="512.40" y="1859.30" font-size="120" transform="matrix(1 0 0 0.928 0 130.95)">(</text>
<text x="552.35" y="1859.3" font-size="120">b</text>
<text x="612.35" y="1859.30" font-size="120" transform="matrix(1 0 0 0.928 0 130.95)">)</text>
<g transform="matrix(0.97 0 0 1 40.76 0)">
<text x="1358.8" y="353.9" font-size="99">Co</text>
<text x="1474.3" y="392.6" font-size="69">3</text>
<text x="1508.8" y="353.9" font-size="99">Al</text>
</g>
<g transform="matrix(0.97 0 0 1 40.76 0)">
<text x="1358.8" y="492.6" font-size="99">Co</text>
<text x="1474.3" y="531.3" font-size="69">2</text>
<text x="1508.8" y="492.6" font-size="99">CrAl regular</text>
</g>
<g transform="matrix(0.97 0 0 1 40.76 0)">
<text x="1358.8" y="631.5" font-size="99">Co</text>
<text x="1474.3" y="670.2" font-size="69">2</text>
<text x="1508.8" y="631.5" font-size="99">CrAl XA</text>
</g>
<g transform="matrix(0.97 0 0 1 40.76 0)">
<text x="1358.8" y="770.4" font-size="99">Co</text>
<text x="1474.3" y="809.1" font-size="69">2</text>
<text x="1508.8" y="770.4" font-size="99">CoAl regular</text>
</g>
<g transform="matrix(0.97 0 0 1 40.76 0)">
<text x="1358.8" y="909.2" font-size="99">Cr</text>
<text x="1457.8" y="947.9" font-size="69">3</text>
<text x="1492.3" y="909.2" font-size="99">Al</text>
</g>
<text x="1023.5" y="3621.9" font-size="120">1/N</text>
<text x="1200.7" y="3668.1" font-size="94">κ</text>
<text x="1246.30" y="3621.90" font-size="120" transform="matrix(1 0 0 0.928 0 256.26)">(</text>
<text x="1286.25" y="3621.9" font-size="120">10</text>
<text x="1401.5" y="3554.7" font-size="82" textLength="54.9" lengthAdjust="spacingAndGlyphs">−</text>
<text x="1451.4" y="3549.8" font-size="86">6</text>
<text x="1495.50" y="3621.90" font-size="120" transform="matrix(1 0 0 0.928 0 256.26)">)</text>
<g transform="rotate(-90)">
<text x="-1209.3" y="233.3" font-size="114" font-family="'DejaVu Serif', serif">σ</text>
<text x="-1132.9" y="279.8" font-size="82">xy</text>
<text x="-1109.9" y="180.3" font-size="95">A</text>
<text x="-1018.60" y="233.30" font-size="120" transform="matrix(1 0 0 0.928 0 13.58)">(</text>
<text x="-978.65" y="233.3" font-size="120">S/cm</text>
<text x="-731.96" y="233.30" font-size="120" transform="matrix(1 0 0 0.928 0 13.58)">)</text>
<text x="-2952.0" y="181.0" font-size="114" font-family="'DejaVu Serif', serif">σ</text>
<text x="-2876.1" y="227.0" font-size="82">xy</text>
<text x="-2857.0" y="125.7" font-size="95">S</text>
<text x="-2761.30" y="180.50" font-size="120" transform="matrix(1 0 0 0.928 0 10.08)">(</text>
<text x="-2721.35" y="180.5" font-size="120">ħS/e cm</text>
<text x="-2331.41" y="180.50" font-size="120" transform="matrix(1 0 0 0.928 0 10.08)">)</text>
</g>
</g>
</svg>
</body></html>
